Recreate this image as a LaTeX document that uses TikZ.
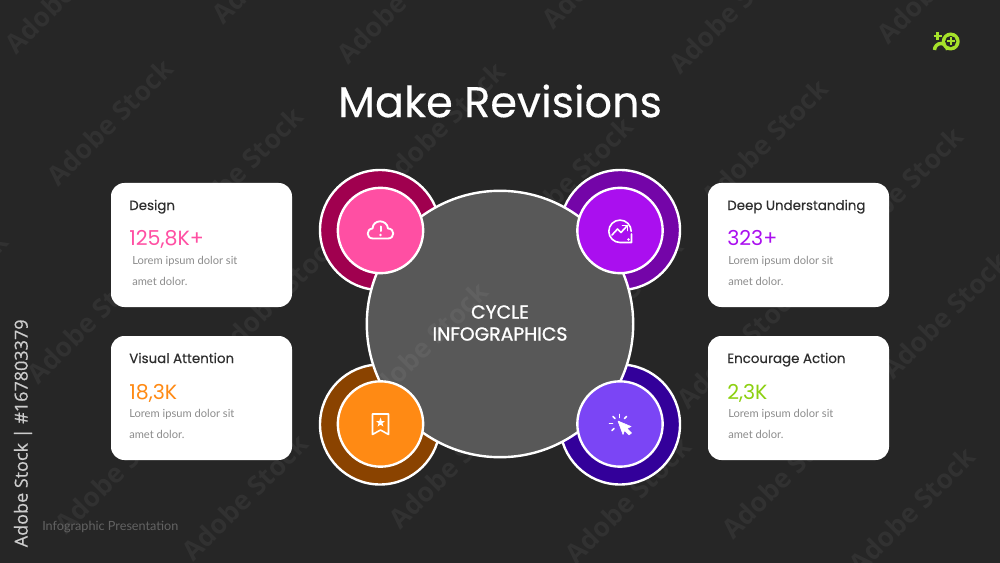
\documentclass[tikz,border=0pt]{standalone}
\usepackage{fontspec}
\setmainfont{Lato}
\newfontfamily\headf{Poppins}[FakeBold=0.3]
\newfontfamily\headb{Poppins}[FakeBold=1.2]
\newfontfamily\headn{Poppins}
\newfontfamily\sidef{Open Sans}[FakeBold=0.4]
\newfontfamily\wmarkf{Open Sans}
\definecolor{bg}{HTML}{262626}
\definecolor{hub}{HTML}{585858}
\definecolor{cardtext}{HTML}{2E2E2E}
\definecolor{lorem}{HTML}{8C8C8C}
\definecolor{pinkA}{HTML}{FF4FA3}\definecolor{pinkB}{HTML}{A0004F}
\definecolor{purpA}{HTML}{AA0FEF}\definecolor{purpB}{HTML}{7405A8}
\definecolor{oranA}{HTML}{FF8A14}\definecolor{oranB}{HTML}{8A4300}
\definecolor{violA}{HTML}{7B45F5}\definecolor{violB}{HTML}{33009A}
\definecolor{lime}{HTML}{A6E22A}
\definecolor{limetext}{HTML}{8CD010}
\newcommand{\fsz}[1]{\fontsize{#1}{#1}\selectfont}
\tikzset{
  ring/.style={circle,draw=white,line width=1.8pt,minimum size=90pt,inner sep=0pt},
  disc/.style={circle,draw=white,line width=1.8pt,minimum size=64pt,inner sep=0pt},
  card/.style={draw=none,fill=white,rounded corners=10pt},
  tcard/.style={anchor=base west,inner sep=0pt,text=cardtext,font=\headf\fsz{10.05}},
  tnum/.style={anchor=base west,inner sep=0pt,font=\headn\fsz{15.4}},
  tlor/.style={anchor=base west,inner sep=0pt,text=lorem,font=\fsz{8.35}},
  ico/.style={draw=white,line width=1.2pt,line join=round,line cap=round},
  wm/.style={rotate=45,inner sep=0pt,text=white,opacity=0.05,font=\wmarkf\bfseries\fsz{20}},
  hubtext/.style={inner sep=0pt,text=white,font=\headb\fsz{14.1}},
}
\begin{document}
\begin{tikzpicture}[x=0.75pt,y=-0.75pt]
\fill[bg] (0,0) rectangle (1000,563);
\useasboundingbox (0,0) rectangle (1000,563);
% watermarks
\foreach \wx/\wy [count=\k] in {68/-10,275/-40,400/0,605/-35,732/10,940/-20,
  110/122,240/170,442/125,570/180,765/142,900/190,
  -55/295,90/320,278/295,620/300,740/345,945/315,
  118/470,245/497,452/465,628/500,785/475,912/510}{
  \node[wm] (wm\k) at (\wx,\wy) {Adobe Stock};
}
\node[inner sep=0pt,text=white,font=\headf\fsz{32.2}] (title) at (500,101) {Make Revisions};
% cards
\path[card] (111,183) rectangle (292,307);
\path[card] (111,336) rectangle (292,460);
\path[card] (708,183) rectangle (889,307);
\path[card] (708,336) rectangle (889,460);
\node[tcard] (t1) at (129,210) {Design};
\node[tnum,text=pinkA] (n1) at (129,246) {125,8K+};
\node[tlor] (l1a) at (132,264) {Lorem ipsum dolor sit};
\node[tlor] (l1b) at (132,285) {amet dolor.};
\node[tcard] (t2) at (129,363) {Visual Attention};
\node[tnum,text=oranA] (n2) at (129,399) {18,3K};
\node[tlor] (l2a) at (129,417) {Lorem ipsum dolor sit};
\node[tlor] (l2b) at (129,438) {amet dolor.};
\node[tcard] (t3) at (727,210) {Deep Understanding};
\node[tnum,text=purpA] (n3) at (727,246) {323+};
\node[tlor] (l3a) at (728,264) {Lorem ipsum dolor sit};
\node[tlor] (l3b) at (728,285) {amet dolor.};
\node[tcard] (t4) at (727,363) {Encourage Action};
\node[tnum,text=limetext] (n4) at (727,399) {2,3K};
\node[tlor] (l4a) at (728,417) {Lorem ipsum dolor sit};
\node[tlor] (l4b) at (728,438) {amet dolor.};
% rings
\node[ring,fill=pinkB] (r1) at (380,230) {};
\node[ring,fill=purpB] (r2) at (620,230) {};
\node[ring,fill=oranB] (r3) at (380,424.5) {};
\node[ring,fill=violB] (r4) at (620,424.5) {};
\node[circle,draw=white,line width=1.8pt,fill=hub,minimum size=199.8pt,inner sep=0pt] (hub) at (500,324) {};
\node[wm] (wmhub) at (425,345) {Adobe Stock};
\node[hubtext] (c1) at (500,312) {CYCLE};
\node[hubtext] (c2) at (500,334) {INFOGRAPHICS};
\node[disc,fill=pinkA] (d1) at (380.5,230.5) {};
\node[disc,fill=purpA] (d2) at (620,230.5) {};
\node[disc,fill=oranA] (d3) at (380.5,424) {};
\node[disc,fill=violA] (d4) at (620,424) {};
% cloud icon
\draw[ico,line width=1.4pt] (373,238.5) .. controls (366,238.5) and (366,229) .. (372.5,228.5)
  .. controls (373,219) and (387,219) .. (388,228.5)
  .. controls (395,228.5) and (395,238.5) .. (388,238.5) -- cycle;
\draw[white,line width=1.5pt,line cap=round] (380.5,226.5) -- (380.5,231);
\fill[white] (380.5,235) circle (1.3);
% chart bubble icon
\draw[ico] (631.5,234) -- (631.5,242.5) -- (620,242.5) arc[start angle=90,end angle=360,radius=11.2];
\fill[white] (628.5,239.5) circle (1.4);
\draw[ico] (612,235) -- (617.5,229) -- (621,232.5) -- (627,226);
\draw[ico] (622.5,225.5) -- (627.5,225.5) -- (627.5,230.5);
% bookmark icon
\draw[ico] (372.5,414) -- (388.5,414) -- (388.5,434.5) -- (380.5,430) -- (372.5,434.5) -- cycle;
\fill[white] (380.5,417.6) -- (381.7,421) -- (385,421) -- (382.4,423.2) -- (383.4,426.6)
  -- (380.5,424.6) -- (377.6,426.6) -- (378.6,423.2) -- (376,421) -- (379.3,421) -- cycle;
% cursor icon
\fill[white,draw=white,line width=.4pt,line join=round] (618,421) -- (631,426.5) -- (627,428.5) -- (631.5,433) -- (629,435) -- (624.5,430.5) -- (623,434.5) -- cycle;
\draw[ico] (619.5,414.5) -- (619.5,417.5);
\draw[ico] (613,416.5) -- (615,418.5);
\draw[ico] (626.5,416.5) -- (624.5,418.5);
\draw[ico] (609.5,423.5) -- (612.5,423.5);
\draw[ico] (612,430.5) -- (614,428.5);
% logo
\draw[lime,line width=2.6pt] (934.5,50) arc[start angle=180,end angle=360,radius=6.5];
\fill[bg] (946,50.5) circle (0.1);
\fill[lime] (950.7,41.5) circle (9);
\fill[bg] (950.7,41.5) circle (5.6);
\draw[lime,line width=1.5pt] (946.7,41.5) -- (954.7,41.5) (950.7,37.5) -- (950.7,45.5);
\draw[lime,line width=1.9pt] (933.5,36) -- (942,36) (937.7,31.8) -- (937.7,40.2);
% side and foot labels
\node[rotate=90,anchor=west,inner sep=0pt,text=white!80!black,font=\sidef\fsz{13.5}] (side) at (23,547.5) {Adobe Stock | \#167803379};
\node[anchor=base west,inner sep=0pt,text=white!28!bg,font=\fsz{9.5}] (foot) at (42,530) {Infographic Presentation};
\end{tikzpicture}
\end{document}
